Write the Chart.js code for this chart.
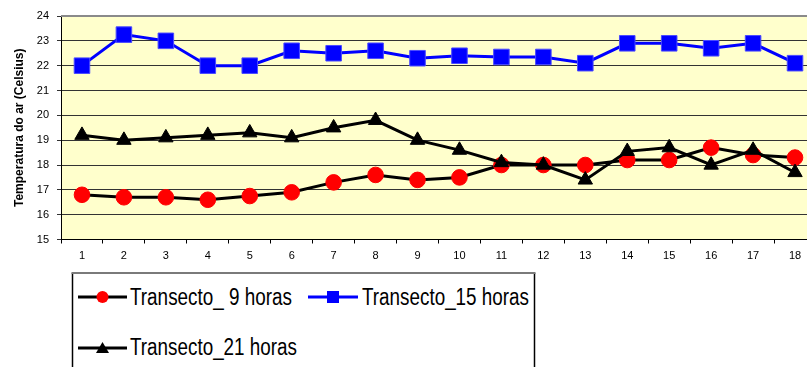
<!DOCTYPE html>
<html>
<head>
<meta charset="utf-8">
<script src="https://cdn.jsdelivr.net/npm/chart.js@4.4.1/dist/chart.umd.min.js"></script>
<style>
  html { margin: 0; padding: 0; width: 807px; height: 367px; overflow: hidden; background: #fff; }
  body { margin: 0; padding: 0; background: #fff; width: 828px; height: 367px; position: relative; }
  #wrap { position: absolute; left: 0; top: 0; width: 828px; height: 367px; }
  #chart { position: absolute; left: 0; top: 0; }
  #legend { position: absolute; left: 0; top: 0; pointer-events: none; }
</style>
</head>
<body>
<div id="wrap"><canvas id="chart" width="828" height="367" style="width:828px;height:367px"></canvas></div>
<svg id="legend" width="807" height="367" xmlns="http://www.w3.org/2000/svg"></svg>
<script>
// Transect points along the x axis
const categories = ['1','2','3','4','5','6','7','8','9','10','11','12','13','14','15','16','17','18'];

// Air temperature (°C) along the transect at three times of day
const temp09h = [16.8, 16.7, 16.7, 16.6, 16.75, 16.9, 17.3, 17.6, 17.4, 17.5, 18.0, 18.0, 18.0, 18.2, 18.2, 18.7, 18.4, 18.3];
const temp15h = [22.0, 23.25, 23.0, 22.0, 22.0, 22.6, 22.5, 22.6, 22.3, 22.4, 22.35, 22.35, 22.1, 22.9, 22.9, 22.7, 22.9, 22.1];
const temp21h = [19.2, 19.0, 19.1, 19.2, 19.3, 19.1, 19.5, 19.8, 19.0, 18.6, 18.1, 18.0, 17.4, 18.55, 18.7, 18.0, 18.6, 17.7];

const seriesNames = ['Transecto_ 9 horas', 'Transecto_15 horas', 'Transecto_21 horas'];
const yAxisTitle = 'Temperatura do ar (Celsius)';
const yMin = 15, yMax = 24, yStep = 1;

// Yellow plot background and the grey frame line along the top
const plotFrame = {
  id: 'plotFrame',
  beforeDraw(chart) {
    const { ctx, chartArea: a } = chart;
    ctx.save();
    ctx.fillStyle = '#FFFFCC';
    ctx.fillRect(a.left, a.top, a.right - a.left, a.bottom - a.top);
    ctx.restore();
  },
  beforeDatasetsDraw(chart) {
    const { ctx, chartArea: a } = chart;
    ctx.save();
    ctx.strokeStyle = '#8a8a8a';
    ctx.lineWidth = 2;
    ctx.beginPath();
    ctx.moveTo(a.left, a.top);
    ctx.lineTo(a.right, a.top);
    ctx.stroke();
    ctx.restore();
  }
};

const tickFont = { family: "'Liberation Sans', Arial, sans-serif", size: 11 };

const chart = new Chart(document.getElementById('chart'), {
  type: 'line',
  data: {
    labels: categories,
    datasets: [
      {
        label: seriesNames[0], data: temp09h, order: 2,
        borderColor: '#000000', borderWidth: 3, tension: 0,
        pointStyle: 'circle', pointRadius: 7.8, pointBorderWidth: 1,
        pointBackgroundColor: '#FF0000', pointBorderColor: '#FF0000'
      },
      {
        label: seriesNames[1], data: temp15h, order: 1,
        borderColor: '#0000FF', borderWidth: 3, tension: 0,
        pointStyle: 'rect', pointRadius: 11, pointBorderWidth: 1,
        pointBackgroundColor: '#0000FF', pointBorderColor: '#4a4aff'
      },
      {
        label: seriesNames[2], data: temp21h, order: 0,
        borderColor: '#000000', borderWidth: 3, tension: 0,
        pointStyle: 'triangle', pointRadius: 8.3, pointBorderWidth: 1,
        pointBackgroundColor: '#000000', pointBorderColor: '#000000'
      }
    ]
  },
  options: {
    responsive: false,
    animation: false,
    events: [],
    layout: { padding: { top: 16, left: 0, right: 0, bottom: 0 } },
    plugins: { legend: { display: false }, tooltip: { enabled: false } },
    scales: {
      x: {
        type: 'category',
        offset: true,
        grid: { drawOnChartArea: false, drawTicks: true, tickLength: 4, offset: true, color: '#000' },
        border: { display: true, color: '#000', width: 1 },
        ticks: { font: tickFont, color: '#000', padding: 6, maxRotation: 0, autoSkip: false },
        afterFit(scale) { scale.height = 127.5; }
      },
      y: {
        min: yMin, max: yMax,
        grid: { color: '#333', lineWidth: 1, drawTicks: true, tickLength: 4 },
        border: { display: true, color: '#000', width: 1 },
        ticks: { stepSize: yStep, font: tickFont, color: '#000', padding: 8 },
        title: {
          display: true, text: yAxisTitle, color: '#000',
          font: { family: "'Liberation Sans', Arial, sans-serif", size: 12, weight: 'bold' },
          padding: { top: 12, bottom: 0 }
        },
        afterFit(scale) { scale.width = 61; }
      }
    }
  },
  plugins: [plotFrame]
});

// Legend: framed box with line+marker samples drawn from the dataset styles
(function buildLegend() {
  const svg = document.getElementById('legend');
  const NS = 'http://www.w3.org/2000/svg';
  const el = (tag, attrs, text) => {
    const e = document.createElementNS(NS, tag);
    for (const k in attrs) e.setAttribute(k, attrs[k]);
    if (text !== undefined) e.textContent = text;
    svg.appendChild(e);
    return e;
  };
  const box = { left: 72.5, top: 273, right: 534.5, bottom: 400 };
  el('rect', { x: box.left, y: box.top, width: box.right - box.left, height: box.bottom - box.top, fill: '#fff', stroke: 'none' });
  el('line', { x1: box.left, y1: box.top, x2: box.left, y2: box.bottom, stroke: '#000', 'stroke-width': 1.5 });
  el('line', { x1: box.right, y1: box.top, x2: box.right, y2: box.bottom, stroke: '#000', 'stroke-width': 1.5 });
  el('line', { x1: box.left - 1, y1: box.top, x2: box.right + 1, y2: box.top, stroke: '#7a7a7a', 'stroke-width': 2 });

  // condensed legend lettering: each label is fitted to its slot width
  const slots = [
    { lineX1: 78, lineX2: 127, cy: 297, textX: 130, baseline: 305, textW: 162 },
    { lineX1: 308, lineX2: 358, cy: 297, textX: 362, baseline: 305, textW: 167 },
    { lineX1: 78, lineX2: 127, cy: 348, textX: 130, baseline: 355, textW: 167 }
  ];
  chart.data.datasets.forEach((ds, i) => {
    const s = slots[i];
    const cx = (s.lineX1 + s.lineX2) / 2;
    el('line', { x1: s.lineX1, y1: s.cy, x2: s.lineX2, y2: s.cy, stroke: ds.borderColor, 'stroke-width': 3 });
    if (ds.pointStyle === 'circle') {
      el('circle', { cx: cx, cy: s.cy, r: 6, fill: ds.pointBackgroundColor });
    } else if (ds.pointStyle === 'rect') {
      el('rect', { x: cx - 6, y: s.cy - 6, width: 12, height: 12, fill: ds.pointBackgroundColor });
    } else {
      el('polygon', { points: `${cx},${s.cy - 6} ${cx + 6.5},${s.cy + 5} ${cx - 6.5},${s.cy + 5}`, fill: ds.pointBackgroundColor });
    }
    el('text', {
      x: s.textX, y: s.baseline, fill: '#000',
      'font-family': "'Liberation Sans', Arial, sans-serif", 'font-size': 23,
      textLength: s.textW, lengthAdjust: 'spacingAndGlyphs'
    }, ds.label);
  });
})();
</script>
</body>
</html>
